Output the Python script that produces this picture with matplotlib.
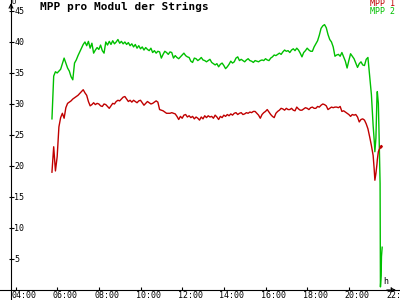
import numpy as np
import matplotlib.pyplot as plt
import matplotlib.transforms as mtransforms

# MPP voltages, 5 minute samples starting 05:45
mpp1_main = [19.0, 23.1, 19.2, 21.5, 26.3, 27.8, 28.5, 27.7, 29.4, 30.1,
             30.3, 30.5, 30.8, 31.0, 31.2, 31.4, 31.7, 32.0, 32.3, 31.8,
             31.4, 30.4, 29.7, 29.9, 30.2, 29.9, 30.1, 30.0, 29.7, 29.6,
             30.0, 29.9, 29.6, 29.3, 29.7, 30.1, 30.0, 30.4, 30.6, 30.5,
             30.8, 31.1, 31.2, 30.8, 30.4, 30.6, 30.3, 30.6, 30.4, 30.2,
             30.5, 30.6, 30.2, 29.8, 30.1, 30.4, 30.2, 30.0, 30.1, 30.3,
             30.5, 30.3, 29.1, 29.0, 28.9, 28.7, 28.5, 28.5, 28.5, 28.6,
             28.5, 28.4, 28.0, 27.5, 28.0, 27.7, 28.2, 28.3, 27.9, 28.1,
             27.8, 28.0, 27.6, 27.9, 27.7, 27.4, 27.9, 27.6, 28.1, 27.8,
             28.1, 27.9, 28.0, 27.7, 28.2, 27.9, 27.5, 28.0, 27.8, 28.2,
             28.0, 28.3, 28.1, 28.4, 28.2, 28.5, 28.6, 28.3, 28.5, 28.6,
             28.3, 28.4, 28.6, 28.5, 28.7, 28.6, 28.8, 28.8, 28.5, 28.2,
             27.7, 28.3, 28.6, 28.8, 29.1, 28.7, 28.3, 28.0, 27.8, 28.5,
             28.8, 29.0, 29.3, 29.2, 29.0, 29.3, 29.1, 29.1, 29.3, 29.0,
             28.9, 29.5, 29.2, 29.0, 29.0, 29.2, 29.4, 29.3, 29.1, 29.4,
             29.5, 29.3, 29.3, 29.6, 29.5, 29.8, 30.0, 29.9, 29.7, 29.1,
             29.3, 29.5, 29.4, 29.5, 29.5, 29.4, 29.6, 28.8, 28.9, 28.7,
             28.5, 28.3, 28.0, 28.3, 28.2, 28.3, 27.9, 27.1, 27.5, 27.6,
             27.4, 26.8, 26.0, 24.7, 23.3, 21.7]
mpp2_main = [27.6, 34.5, 35.2, 35.0, 35.3, 35.6, 36.5, 37.4, 36.6, 35.8,
             35.3, 34.4, 33.9, 36.6, 37.1, 37.8, 38.4, 39.0, 39.6, 40.0,
             39.4, 40.1, 39.0, 39.8, 38.2, 38.7, 39.1, 38.8, 39.5, 38.6,
             38.2, 40.0, 39.5, 40.1, 39.6, 40.2, 39.7, 40.0, 40.4, 39.8,
             40.1, 39.7, 40.0, 39.6, 39.9, 39.4, 39.7, 39.2, 39.6, 39.0,
             39.4, 38.9, 39.2, 38.7, 39.1, 38.8, 38.6, 39.0, 38.3, 38.6,
             38.2, 38.5, 38.4, 37.4, 38.0, 38.5, 38.3, 38.0, 38.4, 38.3,
             37.4, 37.8, 37.5, 37.3, 37.6, 37.9, 38.2, 37.8, 37.6, 37.5,
             36.9, 36.7, 37.4, 37.3, 37.0, 37.2, 37.5, 37.1, 37.0, 36.8,
             37.0, 37.2, 36.7, 36.5, 36.3, 36.5, 36.0, 36.4, 36.6, 36.2,
             35.7, 36.0, 36.4, 36.9, 36.6, 36.8, 37.4, 37.6, 37.0, 37.2,
             37.0, 36.8, 37.1, 37.3, 37.0, 36.9, 36.7, 37.0, 36.9, 36.8,
             37.0, 37.1, 37.0, 37.3, 37.1, 37.0, 37.4, 37.6, 37.9, 37.8,
             38.0, 38.2, 38.0, 38.4, 38.7, 38.5, 38.6, 38.3, 38.7, 38.9,
             38.6, 39.0, 38.7, 38.2, 37.6, 38.3, 38.6, 39.0, 38.7, 38.5,
             38.5, 39.2, 39.7, 40.2, 41.1, 42.2, 42.6, 42.8, 42.3, 41.2,
             40.4, 40.0, 39.2, 37.7, 37.9, 38.0, 37.7, 38.3, 37.6, 36.9,
             35.8, 37.0, 38.1, 37.7, 37.3, 36.6, 35.9, 36.5, 36.8, 36.3,
             36.2, 37.2, 37.5, 34.5, 31.5, 26.5]

# last minutes after 21:00, sampled more densely
end_minutes = [13, 15, 18, 21, 22, 25, 27, 30, 31, 33, 34, 36]
mpp1_end = [19.5, 17.7, 18.8, 20.3, 21.0, 22.3, 22.6, 22.9, 23.2, 22.9, 23.3, 23.1]
mpp2_end = [24.2, 22.3, 24.5, 31.2, 32.0, 30.1, 25.3, 17.2, 0.5, 2.3, 5.4, 6.9]

hour_ticks = [4, 6, 8, 10, 12, 14, 16, 18, 20, 22]
hour_labels = ["04:00", "06:00", "08:00", "10:00", "12:00",
               "14:00", "16:00", "18:00", "20:00", "22:00"]
volt_ticks = [5, 10, 15, 20, 25, 30, 35, 40, 45]

plt.rcParams['font.family'] = ['DejaVu Sans Mono']

t = np.concatenate([5.75 + np.arange(len(mpp1_main)) * 5 / 60,
                    21 + np.array(end_minutes) / 60])
mpp1 = np.concatenate([mpp1_main, mpp1_end])
mpp2 = np.concatenate([mpp2_main, mpp2_end])

fig = plt.figure(figsize=(4, 3), dpi=100)
ax = fig.add_axes([0, 0, 1, 1])
ax.set_xlim(3.256, 22.456)
ax.set_ylim(-1.613, 46.77)

ax.plot(t, mpp2, color="#00c000", lw=1.0)
ax.plot(t, mpp1, color="#c00000", lw=1.0)

# axes cross near the origin
y_axis_x = 3.784
ax.spines['left'].set_visible(False)
ax.spines['top'].set_visible(False)
ax.spines['right'].set_position(('data', y_axis_x))
ax.spines['bottom'].set_position(('data', 0))
for s in ('right', 'bottom'):
    ax.spines[s].set_linewidth(0.8)

ax.yaxis.tick_right()
ax.set_yticks(volt_ticks)
ax.tick_params(axis='y', direction='inout', length=3.6, width=0.8,
               pad=0.5, labelsize=6)

ax.set_xticks(hour_ticks)
ax.set_xticklabels(hour_labels)
ax.tick_params(axis='x', direction='in', length=2.5, width=0.8,
               pad=1, labelsize=6)
shift = mtransforms.ScaledTranslation(-4.5 / 100, 0, fig.dpi_scale_trans)
for lab in ax.get_xticklabels():
    lab.set_horizontalalignment('left')
    lab.set_transform(lab.get_transform() + shift)

# arrow heads
ax.annotate('', xy=(0.997, 0), xytext=(0.96, 0),
            xycoords=('axes fraction', 'data'),
            arrowprops=dict(arrowstyle='->', lw=0.8, mutation_scale=7))
ax.annotate('', xy=(y_axis_x, 0.999), xytext=(y_axis_x, 0.96),
            xycoords=('data', 'axes fraction'),
            arrowprops=dict(arrowstyle='->', lw=0.8, mutation_scale=7))

fig.text(40 / 400, 1 - 7 / 300, "MPP pro Modul der Strings",
         ha='left', va='center', fontsize=8, fontweight='bold')
fig.text(395 / 400, 1 - 4 / 300, "MPP 1", ha='right', va='center',
         fontsize=6, color="#c00000")
fig.text(395 / 400, 1 - 12 / 300, "MPP 2", ha='right', va='center',
         fontsize=6, color="#00c000")
fig.text(386 / 400, 1 - 281.5 / 300, "h", ha='center', va='center', fontsize=6)
fig.text(14 / 400, 1 - 1.5 / 300, "U", ha='center', va='center', fontsize=5)

fig.savefig("out.png", dpi=100)
